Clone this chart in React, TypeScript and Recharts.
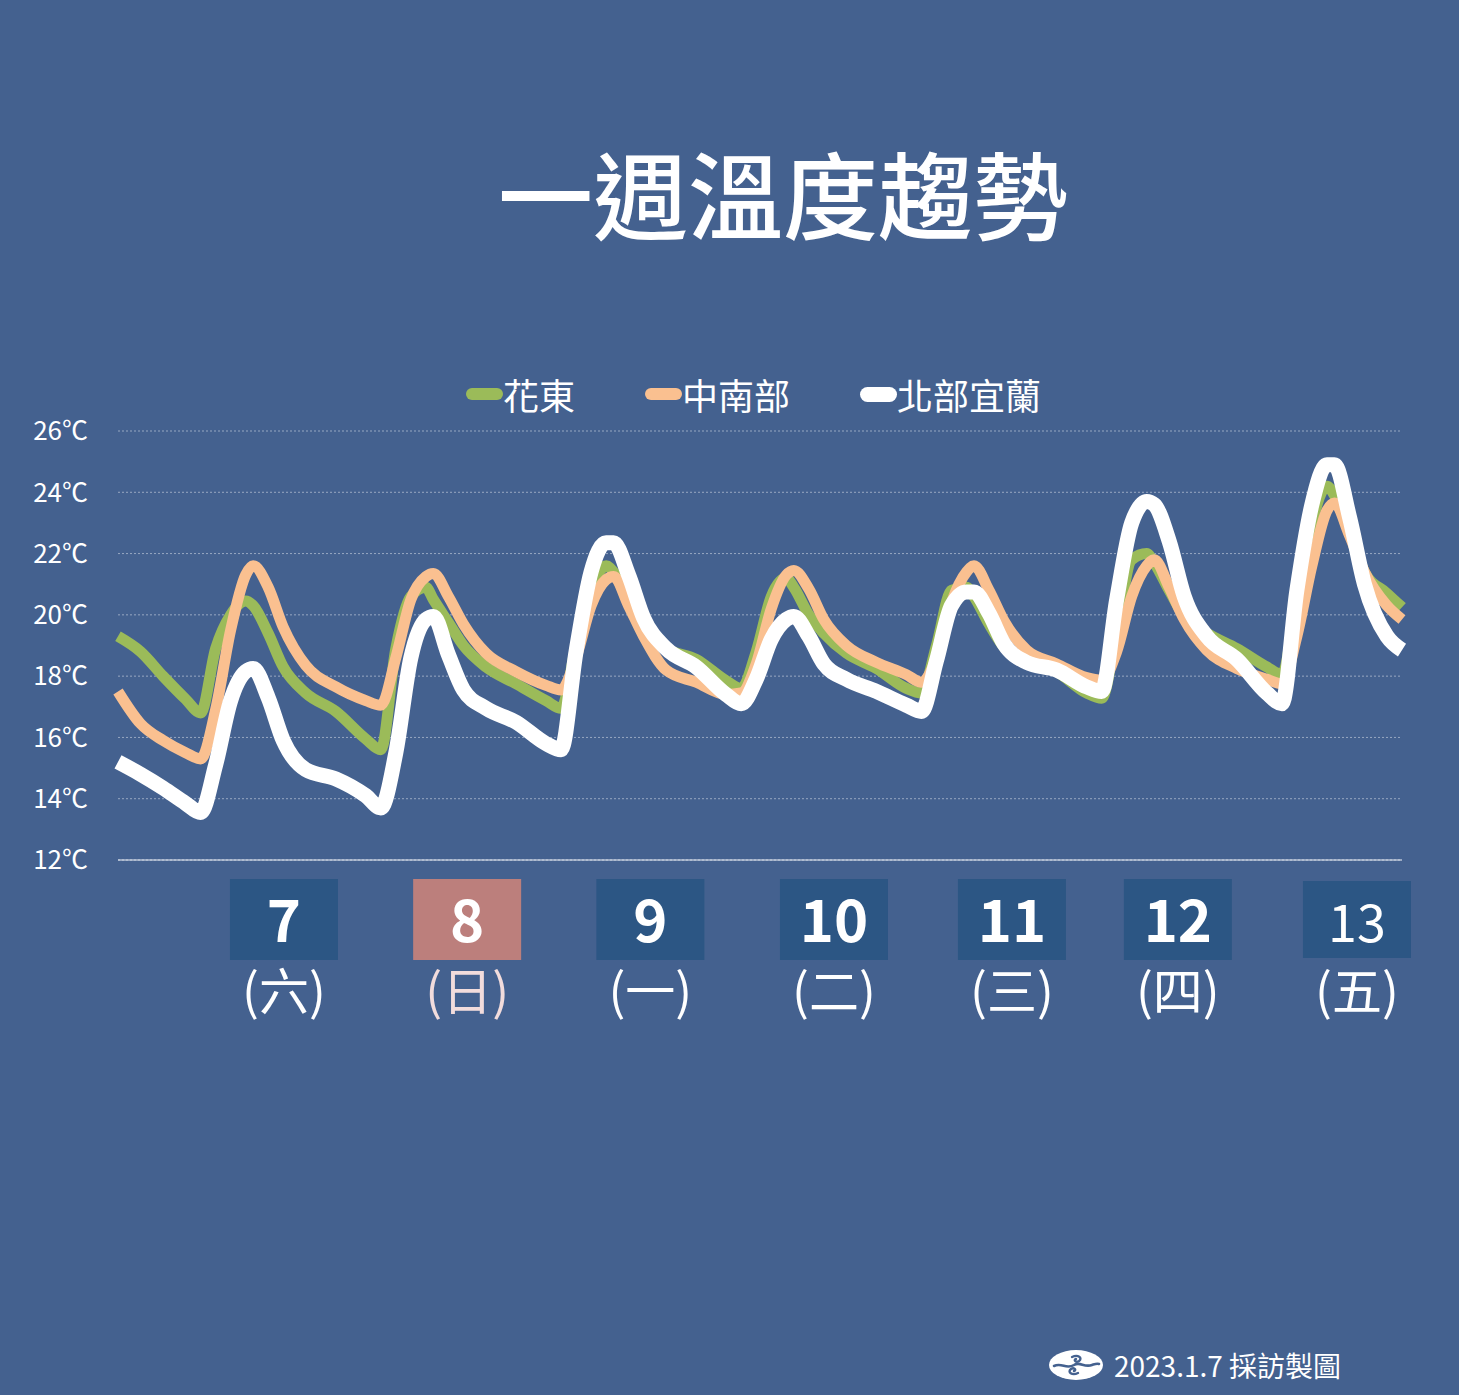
import { CartesianGrid, Legend, Line, LineChart, XAxis, YAxis } from 'recharts';

const FONT = '"Noto Sans CJK TC", "Noto Sans", sans-serif';
const BG = '#44618f';

// hours from the first sample (left edge of the plot)
const hours = [
  0, 3, 6, 9,
  11, 13, 15, 17, 18, 20, 22, 25, 29, 33,
  35, 37, 39, 41, 42, 44, 46, 49, 53, 57,
  59, 61, 63, 65, 66, 68, 70, 73, 77, 81,
  83, 85, 87, 89, 90, 92, 94, 97, 101, 105,
  107, 109, 111, 113, 114, 116, 118, 121, 125, 129,
  131, 133, 135, 137, 138, 140, 142, 145, 149, 153,
  155, 157, 159, 161, 162, 164, 166, 169, 171,
];

const hualien = [
  19.3, 18.8, 18.0, 17.25,
  16.8, 18.9, 20.0, 20.45, 20.3, 19.4, 18.3, 17.45, 16.85, 15.95,
  15.6, 18.9, 20.6, 20.9, 20.5, 19.75, 19.0, 18.3, 17.75, 17.2,
  16.95, 19.0, 20.8, 21.6, 21.4, 20.4, 19.5, 18.9, 18.55, 17.85,
  17.6, 18.8, 20.6, 21.2, 20.9, 20.0, 19.4, 18.75, 18.25, 17.6,
  17.45, 19.0, 20.8, 20.9, 20.6, 19.7, 18.95, 18.5, 18.15, 17.45,
  17.28, 19.5, 21.8, 22.0, 21.7, 20.8, 19.95, 19.4, 18.9, 18.3,
  18.05, 20.5, 23.0, 24.2, 23.9, 22.7, 21.4, 20.7, 20.25,
];

const central = [
  17.5, 16.45, 15.9, 15.5,
  15.3, 16.9, 19.5, 21.3, 21.6, 20.9, 19.6, 18.35, 17.65, 17.2,
  17.05, 18.6, 20.5, 21.25, 21.35, 20.6, 19.7, 18.75, 18.15, 17.7,
  17.55, 18.6, 20.3, 21.15, 21.25, 20.3, 19.3, 18.2, 17.8, 17.4,
  17.45, 18.4, 20.2, 21.3, 21.45, 20.85, 19.85, 19.0, 18.45, 18.05,
  17.8, 18.6, 20.4, 21.4, 21.6, 20.8, 19.8, 18.85, 18.4, 17.95,
  17.87, 18.8, 20.6, 21.6, 21.8, 20.9, 19.85, 18.85, 18.25, 17.9,
  17.75, 19.3, 21.6, 23.4, 23.65, 22.6, 21.4, 20.3, 19.85,
];

const north = [
  15.2, 14.8, 14.35, 13.85,
  13.55, 15.1, 17.2, 18.15, 18.25, 17.3, 15.9, 14.95, 14.65, 14.1,
  13.7, 15.5, 18.6, 19.85, 19.95, 18.7, 17.55, 16.95, 16.5, 15.8,
  15.6, 18.8, 21.4, 22.35, 22.35, 21.3, 19.9, 18.9, 18.3, 17.4,
  17.1, 17.9, 19.2, 19.85, 19.95, 19.3, 18.4, 17.9, 17.5, 17.05,
  16.85, 18.5, 20.3, 20.75, 20.75, 20.05, 19.05, 18.45, 18.2, 17.65,
  17.5, 20.5, 23.0, 23.7, 23.6, 22.4, 20.6, 19.3, 18.55, 17.45,
  17.1, 20.8, 23.6, 24.9, 24.9, 23.2, 21.0, 19.3, 18.85,
];

const seriesNames = ['花東', '中南部', '北部宜蘭'];
const seriesColors = ['#9bbb59', '#fac090', '#ffffff'];

const yTicks = [12, 14, 16, 18, 20, 22, 24, 26];
const dayTicks = [22.1, 46.5, 70.9, 95.35, 119.05, 141.15, 165];
const dayNumbers = ['7', '8', '9', '10', '11', '12', '13'];
const weekdays = ['(六)', '(日)', '(一)', '(二)', '(三)', '(四)', '(五)'];

const data = hours.map((h, i) => ({
  h,
  hualien: hualien[i],
  central: central[i],
  north: north[i],
}));

function DayTick(props: any) {
  const { x, y, payload } = props;
  const i = dayTicks.indexOf(payload.value);
  const sunday = i === 1;
  const last = i === dayNumbers.length - 1;
  return (
    <g>
      <rect
        x={x - 54}
        y={y + (last ? 21 : 19)}
        width={108}
        height={last ? 77 : 81}
        fill={sunday ? '#bc7f7c' : '#2c5684'}
      />
      <text
        x={x}
        y={y + 82}
        textAnchor="middle"
        fill="#ffffff"
        fontFamily={FONT}
        fontSize={last ? 52 : 58}
        fontWeight={last ? 400 : 700}
      >
        {dayNumbers[i]}
      </text>
      <text
        x={x}
        y={y + 150}
        textAnchor="middle"
        fill={sunday ? '#f2dcdc' : '#ffffff'}
        fontFamily={FONT}
        fontSize={50}
      >
        {weekdays[i]}
      </text>
    </g>
  );
}

// keep the series order (recharts sorts legend items by name otherwise)
function LegendRow() {
  return (
    <div style={{ display: 'flex', alignItems: 'center', gap: 70, fontFamily: FONT }}>
      {seriesNames.map((name, i) => {
        const thick = i === 2 ? 15 : 12;
        return (
          <div key={name} style={{ display: 'flex', alignItems: 'center' }}>
            <span
              style={{
                display: 'inline-block',
                width: 37,
                height: thick,
                borderRadius: thick / 2,
                background: seriesColors[i],
              }}
            />
            <span style={{ color: '#ffffff', fontSize: 36, lineHeight: '48px' }}>{name}</span>
          </div>
        );
      })}
    </div>
  );
}

function Logo() {
  return (
    <svg width={56} height={34} viewBox="0 0 56 34">
      <ellipse cx={28} cy={17} rx={27} ry={15} fill="#ffffff" />
      <path
        d="M6 18 C 14 14, 18 22, 26 17 C 32 13, 36 20, 44 17 C 47 16, 49 15, 51 16"
        fill="none"
        stroke={BG}
        strokeWidth={2.6}
        strokeLinecap="round"
      />
      <path
        d="M24 9 C 30 6, 35 10, 31 13 C 28 15, 25 12, 28 11"
        fill="none"
        stroke={BG}
        strokeWidth={2.4}
        strokeLinecap="round"
      />
      <path
        d="M30 25 C 24 28, 19 24, 23 21 C 26 19, 29 22, 26 23"
        fill="none"
        stroke={BG}
        strokeWidth={2.4}
        strokeLinecap="round"
      />
    </svg>
  );
}

export default function App() {
  return (
    <div
      style={{
        position: 'absolute',
        left: 0,
        top: 0,
        width: 1459,
        height: 1395,
        background: BG,
        overflow: 'hidden',
        fontFamily: FONT,
      }}
    >
      <div
        style={{
          position: 'absolute',
          left: 0,
          width: 1566,
          top: 142,
          textAlign: 'center',
          color: '#ffffff',
          fontSize: 95,
          fontWeight: 500,
          lineHeight: '100px',
        }}
      >
        一週溫度趨勢
      </div>

      <LineChart
        width={1459}
        height={1395}
        data={data}
        margin={{ top: 431, right: 57, bottom: 435, left: 0 }}
      >
        <CartesianGrid
          vertical={false}
          stroke="rgba(255,255,255,0.45)"
          strokeDasharray="2 2"
        />
        <XAxis
          dataKey="h"
          type="number"
          domain={[0, 171]}
          ticks={dayTicks}
          interval={0}
          height={100}
          tickSize={0}
          tickMargin={0}
          tickLine={false}
          axisLine={{ stroke: '#f2f4f8', strokeWidth: 1 }}
          tick={<DayTick />}
        />
        <YAxis
          domain={[12, 26]}
          ticks={yTicks}
          interval={0}
          width={118}
          axisLine={false}
          tickLine={false}
          tickSize={6}
          tickMargin={24}
          tickFormatter={(v: number) => `${v}℃`}
          tick={{ fill: '#ffffff', fontSize: 26, fontFamily: FONT }}
        />
        <Legend
          layout="horizontal"
          verticalAlign="middle"
          align="center"
          content={<LegendRow />}
          wrapperStyle={{ top: 370, left: 466, width: 700, height: 48 }}
        />
        <Line
          type="monotone"
          dataKey="hualien"
          name={seriesNames[0]}
          stroke={seriesColors[0]}
          strokeWidth={11}
          strokeLinejoin="round"
          dot={false}
          activeDot={false}
          isAnimationActive={false}
        />
        <Line
          type="monotone"
          dataKey="central"
          name={seriesNames[1]}
          stroke={seriesColors[1]}
          strokeWidth={11}
          strokeLinejoin="round"
          dot={false}
          activeDot={false}
          isAnimationActive={false}
        />
        <Line
          type="monotone"
          dataKey="north"
          name={seriesNames[2]}
          stroke={seriesColors[2]}
          strokeWidth={15}
          strokeLinejoin="round"
          dot={false}
          activeDot={false}
          isAnimationActive={false}
        />
      </LineChart>

      <div
        style={{
          position: 'absolute',
          left: 1048,
          top: 1345,
          display: 'flex',
          alignItems: 'center',
          gap: 10,
          color: '#ffffff',
          fontSize: 28,
        }}
      >
        <Logo />
        <span>2023.1.7 採訪製圖</span>
      </div>
    </div>
  );
}
